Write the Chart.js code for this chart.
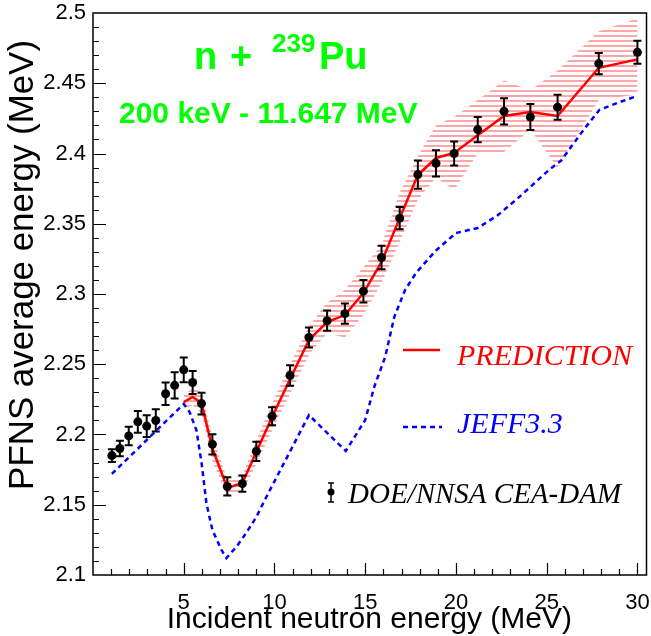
<!DOCTYPE html>
<html>
<head>
<meta charset="utf-8">
<script src="https://cdn.jsdelivr.net/npm/chart.js@4.4.1/dist/chart.umd.min.js"></script>
<style>
  html, body { margin: 0; padding: 0; background: #fff; }
  #wrap { width: 651px; height: 636px; }
</style>
</head>
<body>
<div id="wrap"><canvas id="pfns" width="651" height="636"></canvas></div>
<script>
// Measured points (DOE/NNSA CEA-DAM)
const expEnergy = [1.04, 1.48, 1.97, 2.47, 2.96, 3.46, 4.0, 4.5, 5.0, 5.49, 5.98, 6.58, 7.4, 8.23, 9.0, 9.87,
    10.86, 11.9, 12.9, 13.88, 14.9, 15.9, 16.9, 17.9, 18.9, 19.9, 21.2, 22.65, 24.1, 25.6, 27.87, 30.0];
const expValue = [2.185, 2.190, 2.199, 2.209, 2.206, 2.210, 2.229, 2.235, 2.246, 2.237, 2.222, 2.193, 2.163, 2.165, 2.188, 2.213,
    2.242, 2.269, 2.281, 2.286, 2.302, 2.326, 2.354, 2.385, 2.393, 2.400, 2.417, 2.430, 2.426, 2.433, 2.464, 2.472];
const expError = [0.0045, 0.0055, 0.0066, 0.0077, 0.0077, 0.0079, 0.008, 0.0093, 0.0088, 0.0082, 0.0078, 0.0072, 0.0065, 0.0058, 0.0069, 0.0064,
    0.0073, 0.0071, 0.0072, 0.0072, 0.008, 0.0083, 0.008, 0.01, 0.0093, 0.0085, 0.009, 0.0094, 0.0092, 0.0089, 0.0076, 0.0082];

// Prediction and its uncertainty band
const predEnergy = [5.0, 5.49, 5.98, 6.58, 7.4, 8.23, 9.0, 9.87, 10.86, 11.9, 12.9, 13.88, 14.9, 15.9, 16.9, 17.9,
    18.9, 19.9, 21.2, 22.65, 24.1, 25.6, 27.87, 30.0];
const predValue = [2.2231, 2.2267, 2.2224, 2.190, 2.162, 2.1655, 2.1875, 2.2125, 2.2395, 2.2673, 2.280, 2.285, 2.3007, 2.3228, 2.354, 2.3847,
    2.3968, 2.4004, 2.413, 2.4267, 2.4295, 2.4267, 2.461, 2.467];
const predUpper = [2.228, 2.233, 2.230, 2.199, 2.168, 2.171, 2.196, 2.222, 2.250, 2.277, 2.294, 2.303, 2.319, 2.335, 2.372, 2.398,
    2.420, 2.426, 2.438, 2.452, 2.445, 2.459, 2.487, 2.496];
const predLower = [2.218, 2.221, 2.215, 2.181, 2.156, 2.159, 2.179, 2.203, 2.229, 2.257, 2.272, 2.269, 2.285, 2.308, 2.337, 2.367,
    2.383, 2.374, 2.400, 2.401, 2.417, 2.390, 2.438, 2.442];

// JEFF3.3 evaluation
const jeffEnergy = [1.04, 5.0, 5.32, 5.7, 5.98, 6.25, 6.58, 7.07, 7.35, 7.9, 8.45, 9.0, 9.55, 11.9, 13.93, 15.0, 15.5, 16.1,
    16.6, 17.2, 17.8, 18.9, 20.0, 21.2, 22.3, 23.4, 25.1, 25.8, 26.9, 27.9, 28.9, 30.0];
const jeffValue = [2.172, 2.2217, 2.216, 2.203, 2.180, 2.151, 2.132, 2.118, 2.112, 2.120, 2.130, 2.1413, 2.1555, 2.2138, 2.1883, 2.2103, 2.234, 2.2552,
    2.2836, 2.303, 2.315, 2.331, 2.3434, 2.347, 2.356, 2.368, 2.388, 2.395, 2.4146, 2.431, 2.436, 2.441];

const xTickLabels = [5, 10, 15, 20, 25, 30];
const yTickLabels = [2.1, 2.15, 2.2, 2.25, 2.3, 2.35, 2.4, 2.45, 2.5];

const pts = (xs, ys) => xs.map((x, i) => ({ x: x, y: ys[i] }));

// horizontal hatch like ROOT fill style
function hatchPattern() {
    const c = document.createElement('canvas');
    c.width = 8; c.height = 5;
    const g = c.getContext('2d');
    g.fillStyle = 'rgba(255, 60, 60, 0.45)';
    g.fillRect(0, 0, 8, 2);
    return g.createPattern(c, 'repeat');
}

const SANS = '"Liberation Sans", Arial, sans-serif';
const SERIF = '"Liberation Serif", "Times New Roman", serif';

// frame + inward ticks, ROOT style
const frameTicks = {
    id: 'frameTicks',
    afterDraw(chart) {
        const { ctx, chartArea: a, scales: { x, y } } = chart;
        ctx.save();
        ctx.strokeStyle = '#000';
        ctx.lineWidth = 1.5;
        ctx.strokeRect(a.left, a.top, a.right - a.left, a.bottom - a.top);
        ctx.beginPath();
        for (let e = 1; e <= 30; e++) {
            const px = Math.round(x.getPixelForValue(e)) + 0.5;
            const len = e % 5 === 0 ? 12 : 6;
            ctx.moveTo(px, a.bottom);
            ctx.lineTo(px, a.bottom - len);
        }
        for (let k = 1; k < 40; k++) {
            const v = 2.1 + k * 0.01;
            const py = Math.round(y.getPixelForValue(v)) + 0.5;
            const len = k % 5 === 0 ? 13 : 6;
            ctx.moveTo(a.left, py);
            ctx.lineTo(a.left + len, py);
        }
        ctx.lineWidth = 1.2;
        ctx.stroke();
        ctx.restore();
    }
};

const errorBars = {
    id: 'errorBars',
    afterDatasetsDraw(chart) {
        const { ctx, scales: { x, y } } = chart;
        ctx.save();
        ctx.strokeStyle = '#000';
        ctx.lineWidth = 2;
        ctx.beginPath();
        expEnergy.forEach((e, i) => {
            const px = x.getPixelForValue(e);
            const top = y.getPixelForValue(expValue[i] + expError[i]);
            const bot = y.getPixelForValue(expValue[i] - expError[i]);
            ctx.moveTo(px, top); ctx.lineTo(px, bot);
            ctx.moveTo(px - 4, top); ctx.lineTo(px + 4, top);
            ctx.moveTo(px - 4, bot); ctx.lineTo(px + 4, bot);
        });
        ctx.stroke();
        ctx.restore();
    }
};

// titles, axis titles and legend drawn as text on the canvas
const annotations = {
    id: 'annotations',
    afterDraw(chart) {
        const ctx = chart.ctx;
        ctx.save();
        ctx.fillStyle = '#00ff00';
        ctx.textBaseline = 'alphabetic';
        ctx.font = 'bold 38px ' + SANS;
        ctx.fillText('n', 194, 69);
        ctx.fillText('+', 230, 69);
        ctx.fillText('Pu', 319, 69);
        ctx.font = 'bold 26px ' + SANS;
        ctx.fillText('239', 272, 52);
        ctx.font = 'bold 30px ' + SANS;
        ctx.fillText('200 keV - 11.647 MeV', 119, 123);

        // x axis title, right aligned like ROOT
        ctx.fillStyle = '#000';
        ctx.font = '30px ' + SANS;
        ctx.textAlign = 'right';
        ctx.fillText('Incident neutron energy (MeV)', 572, 628);

        // y axis title, right aligned towards the top
        ctx.save();
        ctx.translate(23, 40);
        ctx.rotate(-Math.PI / 2);
        ctx.font = '32px ' + SANS;
        const w = ctx.measureText('PFNS average energy (MeV)').width;
        ctx.font = (32 * 450 / w).toFixed(1) + 'px ' + SANS;
        ctx.textAlign = 'right';
        ctx.textBaseline = 'middle';
        ctx.fillText('PFNS average energy (MeV)', 0, 0);
        ctx.restore();
        ctx.textAlign = 'left';

        // legend
        ctx.lineWidth = 2.5;
        ctx.strokeStyle = '#ff0000';
        ctx.beginPath(); ctx.moveTo(403, 350); ctx.lineTo(440, 350); ctx.stroke();
        ctx.strokeStyle = '#0000ff';
        ctx.setLineDash([5, 4]);
        ctx.beginPath(); ctx.moveTo(403, 427); ctx.lineTo(442, 427); ctx.stroke();
        ctx.setLineDash([]);
        ctx.strokeStyle = '#000';
        ctx.lineWidth = 1.5;
        ctx.beginPath();
        ctx.moveTo(331, 483); ctx.lineTo(331, 502);
        ctx.moveTo(328, 483); ctx.lineTo(334, 483);
        ctx.moveTo(328, 502); ctx.lineTo(334, 502);
        ctx.stroke();
        ctx.fillStyle = '#000';
        ctx.beginPath(); ctx.arc(331, 492, 3.5, 0, Math.PI * 2); ctx.fill();

        ctx.font = 'italic 30px ' + SERIF;
        ctx.fillStyle = '#ff0000';
        ctx.fillText('PREDICTION', 457, 365);
        ctx.fillStyle = '#0000ff';
        ctx.fillText('JEFF3.3', 457, 433);
        ctx.font = 'italic 29px ' + SERIF;
        ctx.fillStyle = '#000';
        ctx.fillText('DOE/NNSA CEA-DAM', 348, 503);
        ctx.restore();
    }
};

const ctx = document.getElementById('pfns').getContext('2d');
new Chart(ctx, {
    type: 'line',
    data: {
        datasets: [
            {
                label: 'DOE/NNSA CEA-DAM',
                data: pts(expEnergy, expValue),
                showLine: false,
                pointRadius: 4.5,
                pointBackgroundColor: '#000',
                pointBorderColor: '#000',
                pointBorderWidth: 0
            },
            {
                label: 'PREDICTION',
                data: pts(predEnergy, predValue),
                borderColor: '#ff0000',
                borderWidth: 2.5,
                pointRadius: 0,
                tension: 0
            },
            {
                label: 'JEFF3.3',
                data: pts(jeffEnergy, jeffValue),
                borderColor: '#0000ff',
                borderWidth: 2.5,
                borderDash: [5, 4],
                pointRadius: 0,
                tension: 0
            },
            {
                label: 'band upper',
                data: pts(predEnergy, predUpper),
                borderWidth: 0,
                borderColor: 'rgba(0,0,0,0)',
                backgroundColor: hatchPattern(),
                pointRadius: 0,
                fill: '+1'
            },
            {
                label: 'band lower',
                data: pts(predEnergy, predLower),
                borderWidth: 0,
                borderColor: 'rgba(0,0,0,0)',
                pointRadius: 0,
                fill: false
            }
        ]
    },
    options: {
        responsive: false,
        animation: false,
        layout: { padding: { top: 13, right: 3, left: 0, bottom: 0 } },
        plugins: {
            legend: { display: false },
            tooltip: { enabled: false }
        },
        scales: {
            x: {
                type: 'linear',
                min: 0,
                max: 30.5,
                grid: { display: false, drawTicks: false },
                border: { display: false },
                ticks: {
                    autoSkip: false,
                    maxRotation: 0,
                    padding: 15,
                    color: '#000',
                    font: { family: SANS, size: 22 }
                },
                afterBuildTicks: s => { s.ticks = xTickLabels.map(v => ({ value: v })); },
                afterFit: s => { s.height = 61; s.paddingLeft = 0; s.paddingRight = 0; }
            },
            y: {
                type: 'linear',
                min: 2.1,
                max: 2.5,
                grid: { display: false, drawTicks: false },
                border: { display: false },
                ticks: {
                    autoSkip: false,
                    padding: 7,
                    color: '#000',
                    font: { family: SANS, size: 22 },
                    callback: v => String(parseFloat(v.toFixed(2)))
                },
                afterBuildTicks: s => { s.ticks = yTickLabels.map(v => ({ value: v })); },
                afterFit: s => { s.width = 93; s.paddingTop = 0; s.paddingBottom = 0; }
            }
        }
    },
    plugins: [frameTicks, errorBars, annotations]
});
</script>
</body>
</html>
